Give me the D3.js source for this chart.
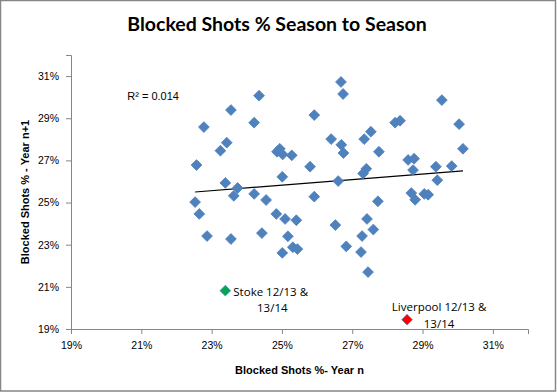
<!DOCTYPE html>
<html>
<head>
<meta charset="utf-8">
<script src="https://cdn.jsdelivr.net/npm/d3@7"></script>
<style>
  body { margin: 0; background: #fff; }
  .axis path, .axis line { stroke: #868686; }
  .axis text { font-family: "Liberation Sans", Arial, sans-serif; font-size: 10.5px; fill: #000; }
</style>
</head>
<body>
<div id="chart"></div>
<script>
// Blocked shots % in season n (x) and n+1 (y), all other teams
const xVals = [24.35, 23.55, 22.78, 24.21, 23.43, 23.25, 24.94, 24.86, 25.02, 25.28,
  22.57, 25.80, 25.01, 23.39, 23.74, 23.63, 24.21, 22.53, 24.55, 22.65,
  24.84, 25.09, 25.41, 22.87, 23.55, 24.43, 25.17, 25.31, 25.44, 25.01,
  26.68, 26.74, 25.92, 29.55, 30.04, 28.22, 28.36, 27.53, 27.34, 26.40,
  26.69, 26.75, 27.76, 30.15, 28.59, 28.76, 28.73, 27.40, 27.31, 29.38,
  29.83, 26.60, 29.42, 25.92, 27.73, 28.68, 28.79, 29.05, 29.16, 26.52,
  27.42, 27.60, 27.28, 26.83, 27.25, 27.45];
const yVals = [30.07, 29.39, 28.58, 28.79, 27.84, 27.46, 27.55, 27.41, 27.28, 27.24,
  26.78, 26.70, 26.22, 25.93, 25.69, 25.32, 25.41, 25.02, 25.12, 24.46,
  24.46, 24.22, 24.16, 23.41, 23.27, 23.55, 23.40, 22.88, 22.79, 22.61,
  30.72, 30.15, 29.15, 29.86, 28.72, 28.79, 28.88, 28.36, 28.01, 28.01,
  27.74, 27.35, 27.41, 27.55, 27.02, 27.08, 26.54, 26.60, 26.38, 26.70,
  26.73, 26.02, 26.06, 25.28, 25.06, 25.45, 25.13, 25.41, 25.37, 23.93,
  24.22, 23.72, 23.41, 22.92, 22.65, 21.70];

// linear trend line ends as drawn in the original
const trendX = [22.53, 30.15];
const trendY = [25.50, 26.50];

// highlighted teams
const stoke = { x: 23.39, y: 20.82, label: ["Stoke 12/13 &", "13/14"] };
const liverpool = { x: 28.56, y: 19.44, label: ["Liverpool 12/13 &", "13/14"] };

const xTicks = [19, 21, 23, 25, 27, 29, 31];
const yTicks = [19, 21, 23, 25, 27, 29, 31];
const rSquaredLabel = "R\u00B2 = 0.014";

const W = 557, H = 392;
const margin = { top: 55, right: 28, bottom: 62, left: 71 },
  width = 528 - margin.left,
  height = 329 - margin.top;

const svg = d3.select("#chart")
  .append("svg")
  .attr("width", W)
  .attr("height", H);

// chart area border
svg.append("rect")
  .attr("x", 0.5).attr("y", 0.5)
  .attr("width", 555).attr("height", 390.5)
  .attr("fill", "#fff")
  .attr("stroke", "#868686")
  .attr("stroke-width", 1.5);

svg.append("text")
  .attr("x", 277)
  .attr("y", 31)
  .attr("text-anchor", "middle")
  .style("font-family", "Lato, 'Open Sans', sans-serif")
  .style("font-weight", "bold")
  .style("font-size", "19.5px")
  .text("Blocked Shots % Season to Season");

const g = svg.append("g")
  .attr("transform", `translate(${margin.left},${margin.top})`);

const x = d3.scaleLinear().domain([19, 32]).range([0, width]);
const y = d3.scaleLinear().domain([19, 32]).range([height, 0]);

g.append("g")
  .attr("class", "axis")
  .attr("transform", `translate(0,${height})`)
  .call(d3.axisBottom(x).tickValues(xTicks).tickFormat(d => d + "%").tickSizeOuter(0).tickSize(5).tickPadding(8));

g.append("g")
  .attr("class", "axis")
  .call(d3.axisLeft(y).tickValues(yTicks).tickFormat(d => d + "%").tickSizeOuter(0).tickSize(5).tickPadding(7));

// axis titles
g.append("text")
  .attr("x", width / 2)
  .attr("y", height + 45)
  .attr("text-anchor", "middle")
  .style("font-family", "'Liberation Sans', Arial, sans-serif")
  .style("font-weight", "bold")
  .style("font-size", "11px")
  .text("Blocked Shots %- Year n");

g.append("text")
  .attr("transform", "rotate(-90)")
  .attr("x", -height / 2)
  .attr("y", -42)
  .attr("text-anchor", "middle")
  .style("font-family", "'Liberation Sans', Arial, sans-serif")
  .style("font-weight", "bold")
  .style("font-size", "11px")
  .text("Blocked Shots % - Year n+1");

// trend line
g.append("path")
  .datum(trendX.map((v, i) => [v, trendY[i]]))
  .attr("fill", "none")
  .attr("stroke", "#000")
  .attr("stroke-width", 1.2)
  .attr("d", d3.line().x(d => x(d[0])).y(d => y(d[1])));

const pts = xVals.map((v, i) => ({ x: v, y: yVals[i] }));
const diamond = d3.symbol().type(d3.symbolSquare).size(58);

g.selectAll(".pt")
  .data(pts)
  .join("path")
  .attr("class", "pt")
  .attr("d", diamond)
  .attr("transform", d => `translate(${x(d.x)},${y(d.y)}) rotate(45)`)
  .attr("fill", "#4F81BD")
  .attr("stroke", "#4F81BD")
  .attr("stroke-width", 0.8);

// highlighted teams
g.append("path")
  .attr("d", diamond)
  .attr("transform", `translate(${x(stoke.x)},${y(stoke.y)}) rotate(45)`)
  .attr("fill", "#00A651")
  .attr("stroke", "#4F81BD")
  .attr("stroke-width", 0.6);

g.append("path")
  .attr("d", diamond)
  .attr("transform", `translate(${x(liverpool.x)},${y(liverpool.y)}) rotate(45)`)
  .attr("fill", "#FF0000")
  .attr("stroke", "#4F81BD")
  .attr("stroke-width", 0.6);

const labelFont = "'Open Sans', 'Liberation Sans', sans-serif";

const stokeText = g.append("text")
  .style("font-family", labelFont)
  .style("font-size", "11.5px");
stokeText.append("tspan")
  .attr("x", x(stoke.x) + 8).attr("y", y(stoke.y) + 5)
  .text(stoke.label[0]);
stokeText.append("tspan")
  .attr("x", x(stoke.x) + 47).attr("y", y(stoke.y) + 21)
  .attr("text-anchor", "middle")
  .text(stoke.label[1]);

const livText = g.append("text")
  .style("font-family", labelFont)
  .style("font-size", "11.5px");
livText.append("tspan")
  .attr("x", x(liverpool.x) + 32).attr("y", y(liverpool.y) - 9)
  .attr("text-anchor", "middle")
  .text(liverpool.label[0]);
livText.append("tspan")
  .attr("x", x(liverpool.x) + 32).attr("y", y(liverpool.y) + 8)
  .attr("text-anchor", "middle")
  .text(liverpool.label[1]);

g.append("text")
  .attr("x", x(20.6))
  .attr("y", y(29.85))
  .style("font-family", "'Liberation Sans', Arial, sans-serif")
  .style("font-size", "11px")
  .text(rSquaredLabel);
</script>
</body>
</html>
